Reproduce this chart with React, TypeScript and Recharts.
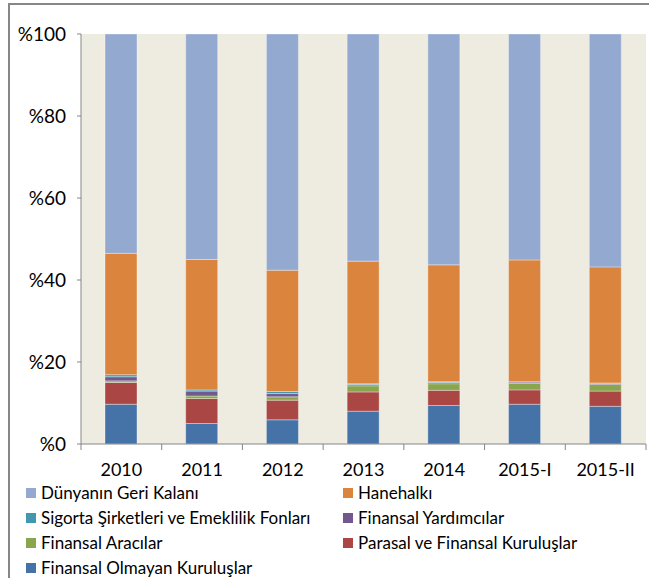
import { BarChart, Bar, XAxis, YAxis, CartesianGrid } from "recharts";

const years = ["2010", "2011", "2012", "2013", "2014", "2015-I", "2015-II"];

// yüzde paylar, alttan üste
const finansalOlmayan = [9.7, 5.0, 5.9, 8.0, 9.4, 9.7, 9.2];
const parasal = [5.3, 6.1, 4.8, 4.7, 3.7, 3.5, 3.7];
const finansalAracilar = [0.4, 0.6, 0.8, 1.5, 1.6, 1.6, 1.6];
const finansalYardimcilar = [1.0, 1.2, 0.8, 0.3, 0.3, 0.3, 0.3];
const sigorta = [0.5, 0.3, 0.5, 0.2, 0.2, 0.1, 0.1];
const hanehalki = [29.6, 31.8, 29.6, 29.9, 28.5, 29.7, 28.3];
const dunya = [53.5, 55.0, 57.6, 55.4, 56.3, 55.1, 56.8];

const yTicks = [0, 20, 40, 60, 80, 100];

const series = [
  { key: "fok", name: "Finansal Olmayan Kuruluşlar", color: "#4572A7", values: finansalOlmayan },
  { key: "pfk", name: "Parasal ve Finansal Kuruluşlar", color: "#AA4643", values: parasal },
  { key: "fa", name: "Finansal Aracılar", color: "#89A54E", values: finansalAracilar },
  { key: "fy", name: "Finansal Yardımcılar", color: "#71588F", values: finansalYardimcilar },
  { key: "sef", name: "Sigorta Şirketleri ve Emeklilik Fonları", color: "#4198AF", values: sigorta },
  { key: "hh", name: "Hanehalkı", color: "#DB843D", values: hanehalki },
  { key: "dgk", name: "Dünyanın Geri Kalanı", color: "#93A9CF", values: dunya },
];

// legend order as in the picture (two columns, row by row)
const legendOrder = ["dgk", "hh", "sef", "fy", "fa", "pfk", "fok"];

const data = years.map((y, i) => {
  const row: Record<string, string | number> = { year: y };
  series.forEach((s) => {
    row[s.key] = s.values[i];
  });
  return row;
});

const FONT = "Lato, 'Open Sans', sans-serif";

function YearTick(props: any) {
  const { x, y, payload, index } = props;
  const half = payload.offset ?? 0;
  return (
    <g>
      <line x1={x - half} y1={y} x2={x - half} y2={y + 6} stroke="#868686" />
      {index === years.length - 1 && (
        <line x1={x + half} y1={y} x2={x + half} y2={y + 6} stroke="#868686" />
      )}
      <text x={x} y={y + 32} textAnchor="middle" fontSize={18} fill="#000" fontFamily={FONT} fontWeight={400}>
        {payload.value}
      </text>
    </g>
  );
}

export default function App() {
  return (
    <div style={{ position: "absolute", left: 0, top: 0, width: 649, height: 578, background: "#fff", overflow: "hidden" }}>
      <div
        style={{
          position: "absolute",
          left: 8,
          top: 3,
          width: 700,
          height: 700,
          borderTop: "2px solid #878787",
          borderLeft: "2px solid #878787",
        }}
      />
      <BarChart
        width={649}
        height={578}
        data={data}
        margin={{ top: 34, right: 3, bottom: 104, left: 0 }}
        style={{ position: "absolute", left: 0, top: 0 }}
      >
        <CartesianGrid fill="#EEECE1" stroke="none" horizontal={false} vertical={false} />
        <XAxis
          dataKey="year"
          height={30}
          axisLine={{ stroke: "#868686" }}
          tickLine={false}
          tickSize={0}
          tickMargin={0}
          interval={0}
          tick={<YearTick />}
        />
        <YAxis
          width={81}
          domain={[0, 100]}
          ticks={yTicks}
          tickFormatter={(v) => `%${v}`}
          axisLine={{ stroke: "#868686" }}
          tickLine={{ stroke: "#868686" }}
          tickSize={4}
          tickMargin={11}
          tick={{ fontSize: 19, fill: "#000", fontFamily: FONT }}
          allowDataOverflow
        />
        {series.map((s) => (
          <Bar
            key={s.key}
            dataKey={s.key}
            name={s.name}
            stackId="a"
            fill={s.color}
            stroke="rgba(255,255,255,0.35)"
            strokeWidth={1}
            barSize={32}
            isAnimationActive={false}
          />
        ))}
      </BarChart>
      <div
        style={{
          position: "absolute",
          left: 26,
          top: 480,
          display: "grid",
          gridTemplateColumns: "317px auto",
          gridAutoRows: "25px",
          fontFamily: FONT,
          fontSize: 17,
          color: "#000",
        }}
      >
        {legendOrder.map((k) => {
          const s = series.find((x) => x.key === k)!;
          return (
            <div key={k} style={{ display: "flex", alignItems: "center", whiteSpace: "nowrap" }}>
              <span style={{ width: 10, height: 10, background: s.color, marginRight: 5, display: "inline-block", flex: "none" }} />
              <span>{s.name}</span>
            </div>
          );
        })}
      </div>
    </div>
  );
}
